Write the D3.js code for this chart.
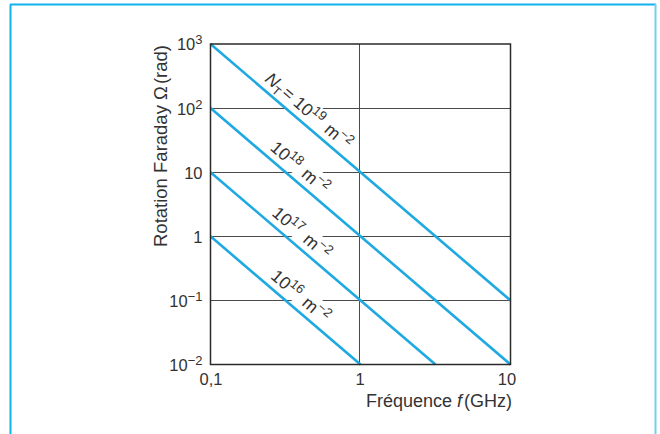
<!DOCTYPE html>
<html><head><meta charset="utf-8">
<script src="https://cdn.jsdelivr.net/npm/d3@7"></script>
<style>
html,body{margin:0;padding:0;background:#fff;}
svg{display:block;}
text{font-family:"Liberation Sans", Arial, Helvetica, sans-serif; fill:#333;}
</style></head><body>
<svg id="chart" width="660" height="434"></svg>
<script>
// Frequency axis (GHz)
const xTicks = [0.1, 1, 10];
const xTickLabels = ["0,1", "1", "10"];
// Faraday rotation axis (rad)
const yTicks = [0.01, 0.1, 1, 10, 100, 1000];
const yTickBase = ["10", "10", "1", "10", "10", "10"];
const yTickExp = ["\u22122", "\u22121", "", "", "2", "3"];

// Total electron content N_T (m^-2), one straight log-log line each: [f (GHz), Omega (rad)]
const densityExp = ["19", "18", "17", "16"];
const lineN19 = [[0.1, 1000], [10, 0.1]];
const lineN18 = [[0.1, 100], [10, 0.01]];
const lineN17 = [[0.1, 10], [3.16, 0.01]];
const lineN16 = [[0.1, 1], [1, 0.01]];
const series = [lineN19, lineN18, lineN17, lineN16];
// frequency at which each curve label sits
const labelF = [0.212, 0.23, 0.236, 0.232];

const svg = d3.select("#chart");
const x = d3.scaleLog().domain([0.1, 10]).range([210.5, 510.5]);
const y = d3.scaleLog().domain([0.01, 1000]).range([364.5, 44]);
const blue = "#1ea9e1";

// page frame
svg.append("line").attr("x1", 10.5).attr("y1", 4.5).attr("x2", 10.5).attr("y2", 434)
  .attr("stroke", "#10b2ee").attr("stroke-width", 2);
svg.append("line").attr("x1", 10).attr("y1", 4.5).attr("x2", 656).attr("y2", 4.5)
  .attr("stroke", "#10b2ee").attr("stroke-width", 2);
svg.append("line").attr("x1", 655.5).attr("y1", 4).attr("x2", 655.5).attr("y2", 434)
  .attr("stroke", "#72cff2").attr("stroke-width", 2);

// grid
const grid = svg.append("g").attr("stroke", "#4a4a4a").attr("stroke-width", 1);
yTicks.slice(1, -1).forEach(t => {
  grid.append("line").attr("x1", x(0.1)).attr("x2", x(10))
    .attr("y1", Math.round(y(t)) + 0.5).attr("y2", Math.round(y(t)) + 0.5);
});
xTicks.slice(1, -1).forEach(t => {
  grid.append("line").attr("y1", y(1000)).attr("y2", y(0.01))
    .attr("x1", Math.round(x(t)) - 1.5).attr("x2", Math.round(x(t)) - 1.5);
});

// curve labels, rotated along the lines
const angle = (Math.atan2(y(lineN19[1][1]) - y(lineN19[0][1]), x(lineN19[1][0]) - x(lineN19[0][0])) * 180) / Math.PI;
function pointOn(line, f) {
  const [a, b] = line;
  const t = (Math.log10(f) - Math.log10(a[0])) / (Math.log10(b[0]) - Math.log10(a[0]));
  const lo = Math.log10(a[1]) + t * (Math.log10(b[1]) - Math.log10(a[1]));
  return [x(f), y(Math.pow(10, lo))];
}
function buildLabel(t, i) {
  if (i === 0) {
    t.append("tspan").attr("font-style", "italic").text("N");
    t.append("tspan").attr("font-size", 12).attr("dy", 4).text("T");
    t.append("tspan").attr("dy", -4).attr("dx", 2).text("= 10");
  } else {
    t.append("tspan").text("10");
  }
  t.append("tspan").attr("font-size", 13).attr("dy", -7).text(densityExp[i]);
  t.append("tspan").attr("dy", 7).attr("dx", 7).text("m");
  t.append("tspan").attr("font-size", 13).attr("dy", -7).text("\u22122");
}
const labels = svg.append("g");
series.forEach((line, i) => {
  const [px, py] = pointOn(line, labelF[i]);
  const g = labels.append("g").attr("transform", `translate(${px},${py}) rotate(${angle})`);
  const bg = g.append("rect").attr("fill", "#fff");
  const t = g.append("text").attr("x", 0).attr("y", -7).attr("font-size", 17.5);
  buildLabel(t, i);
  // white box behind the label so the grid is interrupted there
  const bb = t.node().getBBox();
  bg.attr("x", bb.x - 1).attr("y", bb.y + 2).attr("width", bb.width + 2).attr("height", bb.height - 3);
});

// curves
const lineGen = d3.line().x(d => x(d[0])).y(d => y(d[1]));
svg.append("g").selectAll("path").data(series).join("path")
  .attr("d", lineGen).attr("fill", "none").attr("stroke", blue).attr("stroke-width", 2.6);

// plot border
svg.append("rect").attr("x", x(0.1)).attr("y", y(1000))
  .attr("width", x(10) - x(0.1)).attr("height", y(0.01) - y(1000))
  .attr("fill", "none").attr("stroke", "#2a2a2a").attr("stroke-width", 1.5);

// x axis
const xAxis = svg.append("g").attr("transform", `translate(0,${y(0.01)})`)
  .call(d3.axisBottom(x).tickValues(xTicks).tickSize(0).tickPadding(9)
    .tickFormat((d, i) => xTickLabels[i]));
xAxis.select(".domain").remove();
xAxis.selectAll("text").attr("font-size", 16.5).attr("font-family", null).attr("fill", "#333")
  .attr("dx", (d, i) => (i === 2 ? -4 : i === 1 ? -1 : 0));

// y axis
const yAxis = svg.append("g").attr("transform", `translate(${x(0.1)},0)`)
  .call(d3.axisLeft(y).tickValues(yTicks).tickSize(0).tickPadding(8).tickFormat(() => ""));
yAxis.select(".domain").remove();
yAxis.selectAll(".tick text").each(function (d, i) {
  const t = d3.select(this).attr("font-size", 16.5).attr("font-family", null).attr("fill", "#333")
    .attr("dy", "0.36em").text(null);
  t.append("tspan").text(yTickBase[i]);
  if (yTickExp[i]) t.append("tspan").attr("font-size", 13).attr("dy", -6).text(yTickExp[i]);
});

// axis titles
const xt = svg.append("text").attr("x", 512).attr("y", 407).attr("text-anchor", "end").attr("font-size", 18);
xt.append("tspan").text("Fréquence ");
xt.append("tspan").attr("font-style", "italic").text("f");
xt.append("tspan").attr("dx", 2).text("(GHz)");
const yt = svg.append("text").attr("transform", "translate(167,247) rotate(-90)")
  .attr("text-anchor", "start").attr("font-size", 18.5);
yt.append("tspan").text("Rotation Faraday \u03a9");
yt.append("tspan").attr("dx", 2).text("(rad)");
</script>
</body></html>
